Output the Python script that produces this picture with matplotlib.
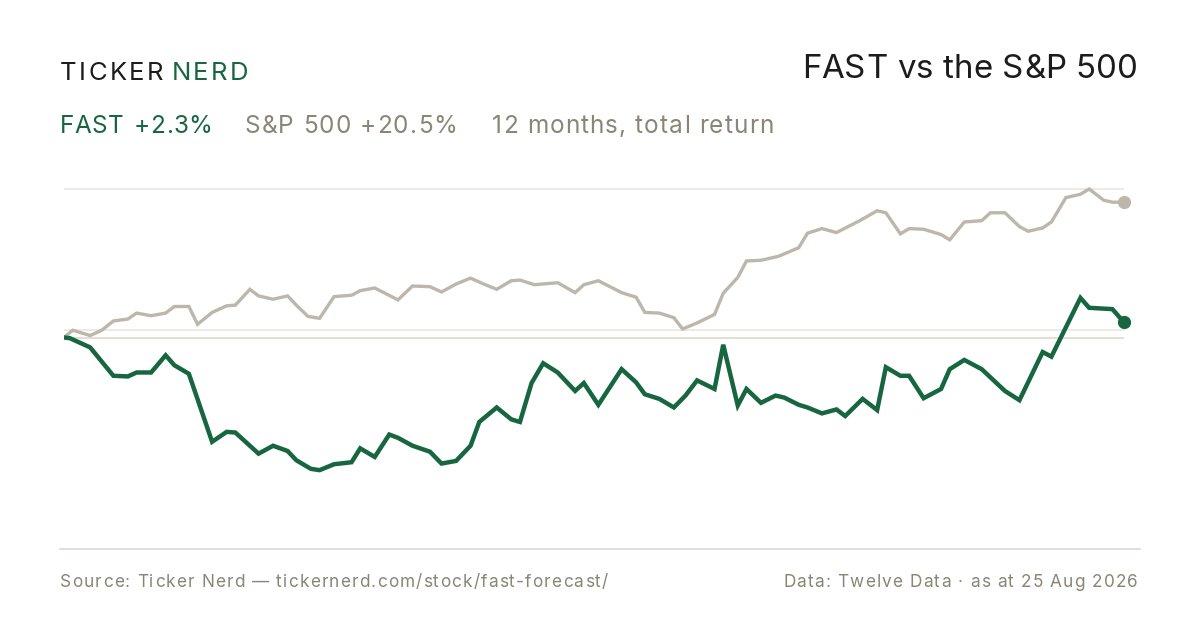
import matplotlib
matplotlib.use("Agg")
import matplotlib.pyplot as plt
from matplotlib.lines import Line2D

# ---------------- data ----------------
fast_days = [0, 2, 9, 17, 22, 25, 30, 35, 38, 43, 51, 56, 59, 64, 67, 72, 77, 80, 85, 88,
             93, 99, 102, 107, 112, 115, 120, 126, 130, 135, 140, 143, 149, 154, 157, 161,
             165, 170, 176, 179, 184, 192, 197, 200, 205, 210, 214, 218, 224, 227, 232,
             235, 240, 245, 248, 253, 256, 261, 266, 269, 275, 280, 283, 288, 291, 296,
             302, 305, 310, 316, 324, 329, 337, 340, 350, 353, 361, 365]
fast_ret = [0.0, -0.1, -1.5, -5.8, -5.9, -5.3, -5.3, -2.7, -4.2, -5.5, -15.8, -14.3, -14.4,
            -16.4, -17.6, -16.4, -17.2, -18.6, -19.9, -20.1, -19.2, -18.9, -16.8, -18.1,
            -14.7, -15.2, -16.4, -17.3, -19.1, -18.7, -16.4, -12.8, -10.6, -12.4, -12.8,
            -6.9, -3.9, -5.3, -8.1, -6.9, -10.2, -4.8, -6.8, -8.6, -9.3, -10.6, -8.8, -6.5,
            -7.8, -1.1, -10.3, -7.8, -9.9, -8.8, -9.1, -10.2, -10.6, -11.5, -10.9, -11.9,
            -9.3, -11.0, -4.5, -5.8, -5.8, -9.2, -7.8, -4.8, -3.4, -4.8, -8.1, -9.5, -2.2,
            -2.9, 6.0, 4.5, 4.3, 2.3]

spx_days = [0, 3, 9, 13, 17, 22, 25, 30, 35, 38, 43, 46, 51, 56, 59, 64, 67, 72, 77, 80,
            84, 88, 93, 99, 102, 107, 111, 115, 120, 126, 130, 135, 140, 144, 149, 154,
            157, 162, 170, 176, 179, 184, 192, 197, 200, 205, 210, 213, 218, 224, 227,
            232, 235, 240, 246, 253, 256, 261, 266, 274, 280, 283, 288, 291, 296, 302,
            305, 310, 316, 319, 324, 329, 332, 337, 340, 345, 350, 353, 358, 361, 365]
spx_ret = [0.0, 1.1, 0.3, 1.1, 2.5, 2.8, 3.7, 3.3, 3.7, 4.7, 4.7, 2.0, 3.8, 4.8, 4.9, 7.3,
           6.3, 5.8, 6.3, 4.9, 3.2, 2.9, 6.2, 6.4, 7.1, 7.5, 6.6, 5.7, 7.8, 7.7, 6.9, 8.1,
           9.0, 8.2, 7.3, 8.6, 8.7, 8.0, 8.3, 6.8, 8.0, 8.6, 6.8, 6.1, 3.8, 3.7, 3.0, 1.3,
           2.2, 3.5, 6.7, 9.1, 11.6, 11.7, 12.3, 13.6, 15.8, 16.5, 15.9, 17.7, 19.2, 18.9,
           15.7, 16.5, 16.4, 15.6, 14.8, 17.5, 17.7, 18.9, 18.9, 16.8, 16.1, 16.6, 17.5,
           21.2, 21.7, 22.5, 20.8, 20.5, 20.5]

grid_levels = [22.5, 1.2]
baseline_level = 0.0

brand_left = "TICKER"
brand_right = "NERD"
title = "FAST vs the S&P 500"
sub_fast_name = "FAST"
sub_fast_val = "+2.3%"
sub_spx = "S&P 500 +20.5%"
sub_note = "12 months, total return"
foot_left = "Source: Ticker Nerd \u2014 tickernerd.com/stock/fast-forecast/"
foot_right = "Data: Twelve Data \u00b7 as at 25 Aug 2026"

# ---------------- style ----------------
GREEN = "#176640"
GRAY_LINE = "#bdb6aa"
GRAY_TEXT = "#8a8576"
DARK = "#1c1c1c"
GRID = "#ebe8e2"
SEP = "#e0dcd2"
FONT = ["Inter", "DejaVu Sans"]

W, H = 1200, 630
fig = plt.figure(figsize=(W / 100, H / 100), dpi=100)
fig.patch.set_facecolor("white")


def fx(x):
    return x / W


def fy(y):
    return 1 - y / H


# ---------------- axes ----------------
top_px, bot_px = 180, 540
zero_px, px_per = 337.5, 6.6
ax = fig.add_axes([fx(64), fy(bot_px), 1060 / W, (bot_px - top_px) / H])
ax.set_xlim(0, 365)
ax.set_ylim((zero_px - bot_px) / px_per, (zero_px - top_px) / px_per)
ax.axis("off")

for g in grid_levels:
    ax.axhline(g, color=GRID, lw=1.3, zorder=1)
ax.axhline(baseline_level, color=SEP, lw=1.3, zorder=1)

ax.plot(spx_days, spx_ret, color=GRAY_LINE, lw=2.4, solid_joinstyle="miter",
        solid_capstyle="butt", zorder=3)
ax.plot(fast_days, fast_ret, color=GREEN, lw=3.2, solid_joinstyle="miter",
        solid_capstyle="butt", zorder=4)
ax.plot([spx_days[-1]], [spx_ret[-1]], "o", color=GRAY_LINE, ms=8.5, zorder=5, clip_on=False)
ax.plot([fast_days[-1]], [fast_ret[-1]], "o", color=GREEN, ms=8.5, zorder=6, clip_on=False)

# separator
fig.add_artist(Line2D([fx(60), fx(1140)], [fy(549), fy(549)], color=SEP, lw=1.3))

# ---------------- text ----------------
renderer = fig.canvas.get_renderer()


def text_w(s, size):
    t = fig.text(0, 0, s + "|", fontsize=size, family=FONT)
    w1 = t.get_window_extent(renderer).width
    t.remove()
    t = fig.text(0, 0, "|", fontsize=size, family=FONT)
    w0 = t.get_window_extent(renderer).width
    t.remove()
    return w1 - w0


def tracked(x, y, s, size, color, track, ha="left"):
    total = text_w(s, size) + track * (len(s) - 1)
    if ha == "right":
        x = x - total
    for i, ch in enumerate(s):
        if ch == " ":
            continue
        xi = x + text_w(s[:i], size) + i * track
        fig.text(fx(xi), fy(y), ch, fontsize=size, color=color, family=FONT,
                 va="baseline", ha="left")
    return x + total


xe = tracked(60, 80, brand_left, 18.5, DARK, 2.4)
tracked(xe + 8, 80, brand_right, 18.5, GREEN, 2.4)

tracked(1138, 78, title, 23.8, DARK, 0.2, ha="right")

xe = tracked(60, 133, sub_fast_name, 17.5, GREEN, 0.4)
tracked(xe + 10.5, 133, sub_fast_val, 17.5, GREEN, 0.4)
tracked(245, 133, sub_spx, 17.5, GRAY_TEXT, 1.1)
tracked(492, 133, sub_note, 17.5, GRAY_TEXT, 1.1)

tracked(60, 587, foot_left, 12.4, GRAY_TEXT, 1.15)
tracked(1138, 587, foot_right, 12.4, GRAY_TEXT, 1.15, ha="right")

fig.savefig("out.png", dpi=100, facecolor="white")
